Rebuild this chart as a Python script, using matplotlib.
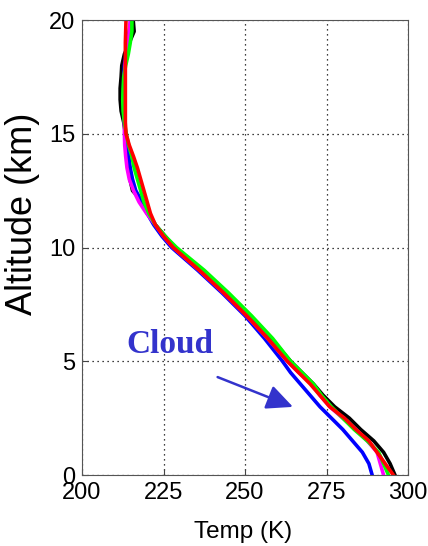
import numpy as np
import matplotlib.pyplot as plt

plt.rcParams['font.family'] = ['Liberation Sans', 'DejaVu Sans']

alt = [0, 0.5, 1, 1.5, 2, 2.5, 3, 3.5, 4, 4.5, 5, 6, 7, 8, 9, 10, 10.5, 11,
       11.5, 12, 12.5, 13, 13.5, 14, 14.5, 15, 15.5, 16, 16.5, 17, 17.5, 18,
       18.5, 19, 19.5, 20]

t_black = [296, 294.5, 292.5, 289.5, 285.5, 282, 277.5, 274, 271, 267.5, 264,
           258, 251.5, 244.5, 237, 228.5, 225.5, 222.5, 220.5, 218.7, 215.5,
           214.7, 214.5, 214.2, 213.8, 213.3, 212.8, 212, 211.7, 211.7, 212,
           212.2, 213, 214.5, 216, 215.7]
t_blue = [289, 288, 286, 283, 280, 276.5, 273, 270, 267, 264, 261.5, 256,
          250, 243, 235.5, 227.5, 224.5, 222, 220, 218.5, 216.5, 215.5, 214.8,
          214.3, 213.8, 213.3, 213, 212.8, 212.8, 212.8, 212.8, 213, 213.5,
          214, 214.5, 215]
t_magenta = [292.5, 291.5, 290.5, 287.5, 284, 280, 276, 273, 270.5, 266.5,
             263, 257, 250.5, 243.5, 236, 228, 225, 222.5, 219.8, 217.5,
             215.8, 214.5, 213.8, 213.4, 213.1, 213, 213, 213, 213, 213, 213,
             213.2, 213.6, 214, 214.5, 214.8]
t_green = [294, 292.5, 291, 287.5, 283.5, 280, 276.5, 273.5, 271, 267.5, 264,
           258.5, 252, 245, 237.5, 229, 225.5, 222.5, 220.5, 219, 218, 217,
           216, 215.3, 214.3, 213.6, 213, 212.6, 212.5, 212.6, 212.8, 213.4,
           214.2, 214.8, 215.3, 215.3]
t_red = [295.5, 293, 290.5, 288, 284, 280.5, 276, 273, 270, 266.5, 263, 257,
         250.5, 243.5, 236, 228, 225, 222.5, 221, 220, 219, 218, 217, 215.8,
         214.5, 213.5, 213.3, 213.3, 213.3, 213.3, 213.3, 213.3, 213.3, 213.3,
         213.4, 213.5]

series = [(t_black, 'black'), (t_blue, '#0000ff'), (t_magenta, '#ff00ff'),
          (t_green, '#00ff00'), (t_red, '#ff0000')]

fig = plt.figure(figsize=(4.28, 5.46), dpi=100)
ax = fig.add_axes([0.1916, 0.130, 0.7617, 0.8333])

for temps, color in series:
    ax.plot(temps, alt, color=color, lw=2.6)

ax.set_xlim(200, 300)
ax.set_ylim(0, 20)
ax.set_xticks([200, 225, 250, 275, 300])
ax.set_yticks([0, 5, 10, 15, 20])
ax.grid(True, color='black', linestyle=(0, (1, 3)), lw=0.9)
ax.tick_params(direction='in', labelsize=17, length=4, color='#444444', pad=5)
for s in ax.spines.values():
    s.set_color('#555555')
ax.set_xlabel('Temp (K)', fontsize=17.5)
ax.xaxis.set_label_coords(0.494, -0.1)
ax.set_ylabel('Altitude (km)', fontsize=26)
ax.yaxis.set_label_coords(-0.128, 0.574)

ax.text(227, 5.75, 'Cloud', fontsize=24, fontweight='bold', color='#3333cc',
        family='Liberation Serif', ha='center', va='center')
ax.annotate('', xy=(265.5, 2.95), xytext=(240.8, 4.35),
            arrowprops=dict(arrowstyle='-|>,head_length=1.6,head_width=0.75',
                            color='#3333cc', lw=1.8))

fig.savefig('out.png', dpi=100)
